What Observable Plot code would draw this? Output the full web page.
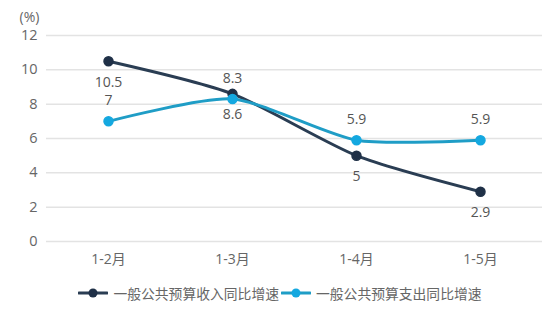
<!DOCTYPE html>
<html>
<head>
<meta charset="utf-8">
<script src="https://cdn.jsdelivr.net/npm/d3@7"></script>
<script src="https://cdn.jsdelivr.net/npm/@observablehq/plot@0.6"></script>
<style>
  body { margin: 0; background: #fff; font-family: "Open Sans", "Noto Sans CJK SC", sans-serif; }
  #chart { width: 560px; }
  .legend { display: flex; justify-content: center; align-items: center; height: 46px; margin-top: 0; font-size: 13.8px; color: #666; font-family: "Noto Sans CJK SC", sans-serif; }
  .legend .item { display: flex; align-items: center; margin: 0 1px; }
  .legend svg { margin-right: 5px; }
</style>
</head>
<body>
<div id="chart"></div>
<script>
const months = ["1-2月", "1-3月", "1-4月", "1-5月"];
const revenue = [10.5, 8.6, 5, 2.9];
const expenditure = [7, 8.3, 5.9, 5.9];
const yTicks = [0, 2, 4, 6, 8, 10, 12];
const seriesNames = ["一般公共预算收入同比增速", "一般公共预算支出同比增速"];
const colors = ["#2a3d53", "#1f9dc6"];
const pointColors = ["#1f3047", "#14a8e0"];

const rev = months.map((m, i) => ({month: m, value: revenue[i]}));
const exp = months.map((m, i) => ({month: m, value: expenditure[i]}));

const plot = Plot.plot({
  width: 560,
  height: 270,
  marginLeft: 46,
  marginRight: 18,
  marginTop: 35,
  marginBottom: 29,
  style: {fontFamily: "'Open Sans', 'Noto Sans CJK SC', sans-serif", fontSize: "14.5px", color: "#666"},
  x: {type: "point", domain: months, padding: 0.5},
  y: {domain: [0, 12]},
  marks: [
    Plot.gridY(yTicks, {stroke: "#e3e3e3", strokeOpacity: 1, strokeWidth: 1.5}),
    Plot.axisY(yTicks, {tickSize: 0, tickPadding: 9, label: null, fontSize: 14.5, fill: "#666"}),
    Plot.axisX({tickSize: 0, tickPadding: 13, label: null, fontSize: 14, fill: "#666"}),
    Plot.text(["(%)"], {frameAnchor: "top-left", dx: -27, dy: -23, textAnchor: "start", fontSize: 14, fill: "#666"}),
    Plot.line(rev, {x: "month", y: "value", stroke: colors[0], strokeWidth: 3, curve: "cardinal", tension: 0.3}),
    Plot.line(exp, {x: "month", y: "value", stroke: colors[1], strokeWidth: 3, curve: "cardinal", tension: 0.3}),
    Plot.dot(rev, {x: "month", y: "value", r: 4.5, fill: pointColors[0], stroke: pointColors[0]}),
    Plot.dot(exp, {x: "month", y: "value", r: 4.5, fill: pointColors[1], stroke: pointColors[1]}),
    Plot.text(rev, {x: "month", y: "value", text: d => String(d.value), dy: 21, fontSize: 14, fill: "#555"}),
    Plot.text(exp, {x: "month", y: "value", text: d => String(d.value), dy: -21, fontSize: 14, fill: "#555"})
  ]
});
document.getElementById("chart").appendChild(plot);

const legend = document.createElement("div");
legend.className = "legend";
seriesNames.forEach((name, i) => {
  const item = document.createElement("div");
  item.className = "item";
  item.innerHTML = `<svg width="30" height="12"><line x1="1" y1="6" x2="29" y2="6" stroke="${colors[i]}" stroke-width="3" stroke-linecap="round"/><circle cx="15" cy="6" r="4.5" fill="${pointColors[i]}"/></svg><span>${name}</span>`;
  legend.appendChild(item);
});
document.getElementById("chart").appendChild(legend);
</script>
</body>
</html>
